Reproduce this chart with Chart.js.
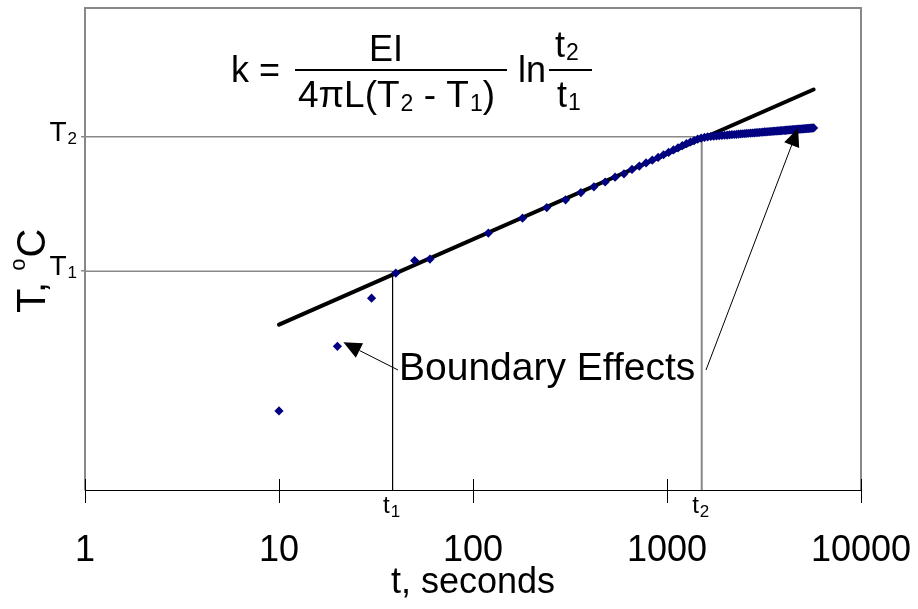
<!DOCTYPE html>
<html>
<head>
<meta charset="utf-8">
<script src="https://cdn.jsdelivr.net/npm/chart.js@4.4.0/dist/chart.umd.min.js"></script>
<style>
  html, body { margin: 0; padding: 0; background: #fff; }
</style>
</head>
<body>
<canvas id="chart" width="918" height="609"></canvas>
<script>
const FONT = "'Liberation Sans', Arial, sans-serif";

// measured temperature rise (time in seconds, temperature in plot units)
const times = [
  10, 20, 30, 40, 50, 60,
  120, 180, 240, 300, 360, 420, 480, 540, 600, 660, 720, 780, 840, 900,
  960, 1020, 1080, 1140, 1200, 1260, 1320, 1380, 1440, 1500, 1560, 1620, 1680, 1740,
  1800, 1860, 1920, 1980, 2040, 2100, 2160, 2220, 2280, 2340, 2400, 2460, 2520, 2580,
  2640, 2700, 2760, 2820, 2880, 2940, 3000, 3060, 3120, 3180, 3240, 3300, 3360, 3420,
  3480, 3540, 3600, 3660, 3720, 3780, 3840, 3900, 3960, 4020, 4080, 4140, 4200, 4260,
  4320, 4380, 4440, 4500, 4560, 4620, 4680, 4740, 4800, 4860, 4920, 4980, 5040, 5100,
  5160, 5220, 5280, 5340, 5400, 5460, 5520, 5580, 5640, 5700
];
const temps = [
  16.4, 29.8, 39.8, 45.0, 47.6, 47.9,
  53.3, 56.4, 58.6, 60.2, 61.7, 62.9, 63.9, 64.9, 65.6, 66.5, 67.2, 67.85, 68.45, 69.0,
  69.55, 70.05, 70.55, 71.0, 71.45, 71.85, 72.2, 72.5, 72.8, 73.0, 73.15, 73.27, 73.34, 73.40,
  73.46, 73.51, 73.55, 73.60, 73.64, 73.68, 73.72, 73.76, 73.80, 73.84, 73.87, 73.91, 73.94, 73.98,
  74.01, 74.04, 74.07, 74.10, 74.14, 74.16, 74.19, 74.22, 74.25, 74.28, 74.30, 74.33, 74.36, 74.38,
  74.41, 74.43, 74.45, 74.48, 74.50, 74.52, 74.55, 74.57, 74.59, 74.61, 74.63, 74.66, 74.68, 74.70,
  74.72, 74.74, 74.76, 74.77, 74.79, 74.81, 74.83, 74.85, 74.87, 74.88, 74.90, 74.92, 74.94, 74.95,
  74.97, 74.99, 75.00, 75.02, 75.04, 75.05, 75.07, 75.08, 75.10, 75.11
];

// straight-line fit through the linear part
const fitTimes = [10, 5700];
const fitTemps = [34.3, 83.1];

// chosen interval
const t1 = 38.5, t2 = 1510;
const T1 = 45.4, T2 = 73.3;

const xTicks = [1, 10, 100, 1000, 10000];
const yTicks = [T1, T2];

const pts = (xs, ys) => xs.map((x, i) => ({ x: x, y: ys[i] }));

// draws text pieces one after another, returns the end x
function run(ctx, parts, x, y) {
  parts.forEach(p => {
    ctx.font = p[1] + 'px ' + FONT;
    ctx.fillText(p[0], x, y + (p[2] || 0));
    x += ctx.measureText(p[0]).width + (p[3] || 0);
  });
  return x;
}

function arrow(ctx, x0, y0, x1, y1) {
  const a = Math.atan2(y1 - y0, x1 - x0);
  const len = 18, hw = 8;
  const bx = x1 - len * Math.cos(a), by = y1 - len * Math.sin(a);
  ctx.beginPath();
  ctx.moveTo(x0, y0);
  ctx.lineTo(bx, by);
  ctx.lineWidth = 1;
  ctx.strokeStyle = '#000';
  ctx.stroke();
  ctx.beginPath();
  ctx.moveTo(x1, y1);
  ctx.lineTo(bx + hw * Math.sin(a), by - hw * Math.cos(a));
  ctx.lineTo(bx - hw * Math.sin(a), by + hw * Math.cos(a));
  ctx.closePath();
  ctx.fillStyle = '#000';
  ctx.fill();
}

const decor = {
  id: 'decor',
  afterDraw(chart) {
    const ctx = chart.ctx;
    const a = chart.chartArea;
    const xs = chart.scales.x, ys = chart.scales.y;
    ctx.save();

    // top and right frame
    ctx.strokeStyle = '#888';
    ctx.lineWidth = 2;
    ctx.beginPath();
    ctx.moveTo(a.left, a.top);
    ctx.lineTo(a.right, a.top);
    ctx.lineTo(a.right, a.bottom);
    ctx.stroke();

    // x tick marks crossing the axis
    ctx.strokeStyle = '#000';
    ctx.lineWidth = 1;
    xTicks.forEach(v => {
      const px = Math.round(xs.getPixelForValue(v)) + 0.5;
      ctx.beginPath();
      ctx.moveTo(px, a.bottom - 11);
      ctx.lineTo(px, a.bottom + 13);
      ctx.stroke();
    });

    ctx.fillStyle = '#000';
    ctx.textBaseline = 'alphabetic';
    ctx.textAlign = 'left';

    // t1, t2 below the axis
    [[t1, '1'], [t2, '2']].forEach(d => {
      const px = xs.getPixelForValue(d[0]);
      ctx.font = '24px ' + FONT;
      const w = ctx.measureText('t').width;
      ctx.font = '17px ' + FONT;
      const w2 = ctx.measureText(d[1]).width;
      run(ctx, [['t', 24, 0, 1], [d[1], 17, 4]], px - (w + w2 + 1) / 2 - 1, a.bottom + 23);
    });

    // T1, T2 on the y axis
    [[T1, '1'], [T2, '2']].forEach(d => {
      const py = ys.getPixelForValue(d[0]);
      ctx.font = '28px ' + FONT;
      const w = ctx.measureText('T').width;
      ctx.font = '17px ' + FONT;
      const w2 = ctx.measureText(d[1]).width;
      run(ctx, [['T', 28, 0, 1], [d[1], 17, 3]], 77 - w - w2 - 1, py + 4);
    });

    // y axis title
    ctx.save();
    ctx.translate(45, 313);
    ctx.rotate(-Math.PI / 2);
    run(ctx, [['T, ', 40], ['o', 22, -20, 1], ['C', 40]], 0, 0);
    ctx.restore();

    // formula
    run(ctx, [['k =', 36]], 231, 82);
    ctx.fillRect(295, 69, 212, 2);
    run(ctx, [['EI', 36]], 369, 61);
    run(ctx, [['4\u03c0L(T', 37, 0, 1], ['2', 23, 4], [' - T', 37, 0, 1], ['1', 23, 4], [')', 37]], 298, 107);
    run(ctx, [['ln', 36]], 518, 82);
    ctx.fillRect(549, 69, 43, 2);
    run(ctx, [['t', 36, 0, 1], ['2', 23, 3]], 555, 57);
    run(ctx, [['t', 36, 0, 1], ['1', 23, 3]], 557, 107);

    // annotation
    run(ctx, [['Boundary Effects', 39]], 399, 380);
    const p1x = xs.getPixelForValue(times[1]), p1y = ys.getPixelForValue(temps[1]);
    arrow(ctx, 398, 370, p1x + 6, p1y - 4);
    const i2 = times.indexOf(4740);
    const p2x = xs.getPixelForValue(times[i2]), p2y = ys.getPixelForValue(temps[i2]);
    arrow(ctx, 706, 370, p2x, p2y - 1);

    ctx.restore();
  }
};

new Chart(document.getElementById('chart'), {
  type: 'scatter',
  data: {
    datasets: [
      {
        data: pts(times, temps),
        pointStyle: 'rectRot',
        pointRadius: 4.6,
        pointBackgroundColor: '#000080',
        pointBorderWidth: 0,
        showLine: false
      },
      {
        data: pts(fitTimes, fitTemps),
        showLine: true,
        borderColor: '#000',
        borderWidth: 4,
        borderCapStyle: 'round',
        pointRadius: 0
      },
      {
        data: [{ x: xTicks[0], y: T1 }, { x: t1, y: T1 }],
        showLine: true, borderColor: '#888', borderWidth: 1.5, pointRadius: 0
      },
      {
        data: [{ x: xTicks[0], y: T2 }, { x: t2, y: T2 }],
        showLine: true, borderColor: '#888', borderWidth: 1.5, pointRadius: 0
      },
      {
        data: [{ x: t1, y: T1 }, { x: t1, y: 0 }],
        showLine: true, borderColor: '#000', borderWidth: 1, pointRadius: 0
      },
      {
        data: [{ x: t2, y: T2 }, { x: t2, y: 0 }],
        showLine: true, borderColor: '#888', borderWidth: 2, pointRadius: 0
      }
    ]
  },
  options: {
    responsive: false,
    animation: false,
    devicePixelRatio: 1,
    layout: { padding: { top: 8, right: 57, left: 0, bottom: 0 } },
    plugins: {
      legend: { display: false },
      tooltip: { enabled: false }
    },
    scales: {
      x: {
        type: 'logarithmic',
        position: 'bottom',
        min: 1,
        max: 10000,
        afterBuildTicks: s => { s.ticks = xTicks.map(v => ({ value: v })); },
        afterFit: s => { s.height = 119; s.paddingLeft = 0; s.paddingRight = 0; },
        ticks: {
          callback: v => String(v),
          font: { family: FONT, size: 36 },
          color: '#000',
          padding: 39,
          maxRotation: 0,
          autoSkip: false
        },
        grid: { display: true, drawOnChartArea: false, drawTicks: false },
        border: { color: '#000', width: 1 },
        title: {
          display: true,
          text: 't, seconds',
          font: { family: FONT, size: 36 },
          color: '#000',
          padding: { top: 0, bottom: 4 }
        }
      },
      y: {
        min: 0,
        max: 100,
        afterBuildTicks: s => { s.ticks = yTicks.map(v => ({ value: v })); },
        afterFit: s => { s.width = 85; s.paddingTop = 0; s.paddingBottom = 0; },
        ticks: { display: false },
        grid: { drawOnChartArea: false, tickLength: 4, color: '#888', lineWidth: 1.5 },
        border: { color: '#888', width: 2 }
      }
    }
  },
  plugins: [decor]
});
</script>
</body>
</html>
